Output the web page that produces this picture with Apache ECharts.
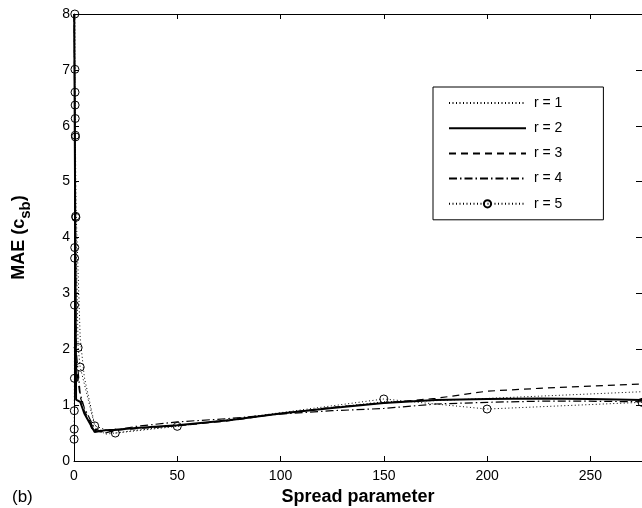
<!DOCTYPE html>
<html>
<head>
<meta charset="utf-8">
<script src="https://cdn.jsdelivr.net/npm/echarts@6/dist/echarts.min.js"></script>
<style>html,body{margin:0;padding:0;background:#fff;}#chart{width:642px;height:508px;}</style>
</head>
<body>
<div id="chart"></div>
<script>
// Shared spread-parameter grid for r = 1..4
var spread = [0.1, 1, 3, 5, 10, 15, 20, 30, 50, 75, 100, 125, 150, 175, 200, 225, 250, 275];
var maeR1 = [8, 4.5, 2.2, 1.5, 0.65, 0.48, 0.5, 0.55, 0.63, 0.73, 0.85, 0.96, 1.06, 1.08, 1.12, 1.16, 1.2, 1.24];
var maeR2 = [8, 1.1, 1.06, 0.85, 0.52, 0.55, 0.56, 0.59, 0.64, 0.73, 0.85, 0.95, 1.04, 1.09, 1.11, 1.12, 1.11, 1.09];
var maeR3 = [8, 1.7, 1.15, 0.9, 0.55, 0.5, 0.55, 0.58, 0.63, 0.72, 0.85, 0.96, 1.04, 1.12, 1.25, 1.3, 1.34, 1.38];
var maeR4 = [8, 2.0, 1.2, 0.95, 0.58, 0.5, 0.55, 0.62, 0.7, 0.76, 0.84, 0.9, 0.94, 1.02, 1.05, 1.07, 1.07, 1.06];
// r = 5 has its own (marked) sample points
var spreadR5 = [0.05, 0.1, 0.15, 0.2, 0.25, 0.3, 0.35, 0.4, 0.45, 0.5, 0.55, 0.6, 0.65, 0.7, 0.8, 0.9, 2, 3, 10, 20, 50, 150, 200, 275];
var maeR5 = [0.39, 0.57, 0.9, 1.48, 2.79, 3.63, 3.82, 8.0, 7.01, 6.6, 6.37, 6.13, 5.83, 5.8, 4.38, 4.36, 2.03, 1.68, 0.63, 0.5, 0.62, 1.11, 0.93, 1.05];
var seriesNames = ['r = 1', 'r = 2', 'r = 3', 'r = 4', 'r = 5'];
var xTicks = [0, 50, 100, 150, 200, 250];
var yTicks = [0, 1, 2, 3, 4, 5, 6, 7, 8];

function pairs(xs, ys) { return xs.map(function (x, i) { return [x, ys[i]]; }); }

var FONT = 'Liberation Sans, Arial, Helvetica, sans-serif';
var chart = echarts.init(document.getElementById('chart'), null, {renderer: 'canvas'});

var axisLine = {show: true, onZero: false, lineStyle: {color: '#000', width: 1}};
var tickIn = {show: true, inside: true, length: 5, lineStyle: {color: '#000'}};

var option = {
  backgroundColor: '#fff',
  animation: false,
  title: {text: '(b)', left: 7, top: 484, textStyle: {fontFamily: FONT, fontSize: 17, fontWeight: 'normal', color: '#000'}},
  grid: {left: 74, top: 14, right: 0, bottom: 47, containLabel: false, outerBoundsMode: 'none'},
  legend: {
    orient: 'vertical', left: 433, top: 87,
    padding: [9, 41, 9, 15],
    itemWidth: 77, itemHeight: 9, itemGap: 11.2,
    borderColor: '#000', borderWidth: 1, backgroundColor: '#fff',
    textStyle: {fontFamily: FONT, fontSize: 14, color: '#000', padding: [0, 0, 0, 3]},
    data: seriesNames.map(function (n, i) {
      return i < 4 ? {name: n, itemStyle: {opacity: 0}} : {name: n};
    })
  },
  xAxis: [{
    type: 'value', min: 0, max: 275, interval: 50,
    axisLine: axisLine, axisTick: tickIn, splitLine: {show: false},
    axisLabel: {color: '#000', fontFamily: FONT, fontSize: 14, margin: 8, showMaxLabel: false},
    name: 'Spread parameter', nameLocation: 'middle', nameGap: 25,
    nameTextStyle: {fontFamily: FONT, fontSize: 18, fontWeight: 'bold', color: '#000'}
  }, {
    type: 'value', position: 'top', min: 0, max: 275, interval: 50,
    axisLine: axisLine, axisTick: tickIn, axisLabel: {show: false}, splitLine: {show: false}
  }],
  yAxis: [{
    type: 'value', min: 0, max: 8, interval: 1,
    axisLine: axisLine, axisTick: tickIn, splitLine: {show: false},
    axisLabel: {color: '#000', fontFamily: FONT, fontSize: 14, margin: 4},
    name: '{m|MAE (c}{s|sb}{m|)}', nameLocation: 'middle', nameGap: 43, nameRotate: 90,
    nameTextStyle: {
      color: '#000',
      rich: {
        m: {fontFamily: FONT, fontSize: 18, fontWeight: 'bold', color: '#000', verticalAlign: 'top', lineHeight: 21},
        s: {fontFamily: FONT, fontSize: 15, fontWeight: 'bold', color: '#000', verticalAlign: 'top', lineHeight: 16, padding: [8, 0, 0, 0]}
      }
    }
  }, {
    type: 'value', position: 'right', min: 0, max: 8, interval: 1,
    axisLine: axisLine,
    axisTick: {show: true, inside: true, length: 6, lineStyle: {color: '#000'}},
    axisLabel: {show: false}, splitLine: {show: false}
  }],
  series: [
    {name: 'r = 1', type: 'line', data: pairs(spread, maeR1), symbol: 'none', clip: true,
     lineStyle: {color: '#000', width: 1, type: [1, 2.5]}, itemStyle: {color: '#000'}},
    {name: 'r = 2', type: 'line', data: pairs(spread, maeR2), symbol: 'none', clip: true,
     lineStyle: {color: '#000', width: 2, type: 'solid'}, itemStyle: {color: '#000'}},
    {name: 'r = 3', type: 'line', data: pairs(spread, maeR3), symbol: 'none', clip: true,
     lineStyle: {color: '#000', width: 1.2, type: [7, 5]}, itemStyle: {color: '#000'}},
    {name: 'r = 4', type: 'line', data: pairs(spread, maeR4), symbol: 'none', clip: true,
     lineStyle: {color: '#000', width: 1.2, type: [8, 3, 1.5, 3]}, itemStyle: {color: '#000'}},
    {name: 'r = 5', type: 'line', data: pairs(spreadR5, maeR5), symbol: 'circle', symbolSize: 8, clip: true,
     showAllSymbol: true,
     lineStyle: {color: '#000', width: 1, type: [1, 2.5]},
     itemStyle: {color: 'rgba(255,255,255,0)', borderColor: '#000', borderWidth: 1}}
  ]
};
chart.setOption(option);
</script>
</body>
</html>
